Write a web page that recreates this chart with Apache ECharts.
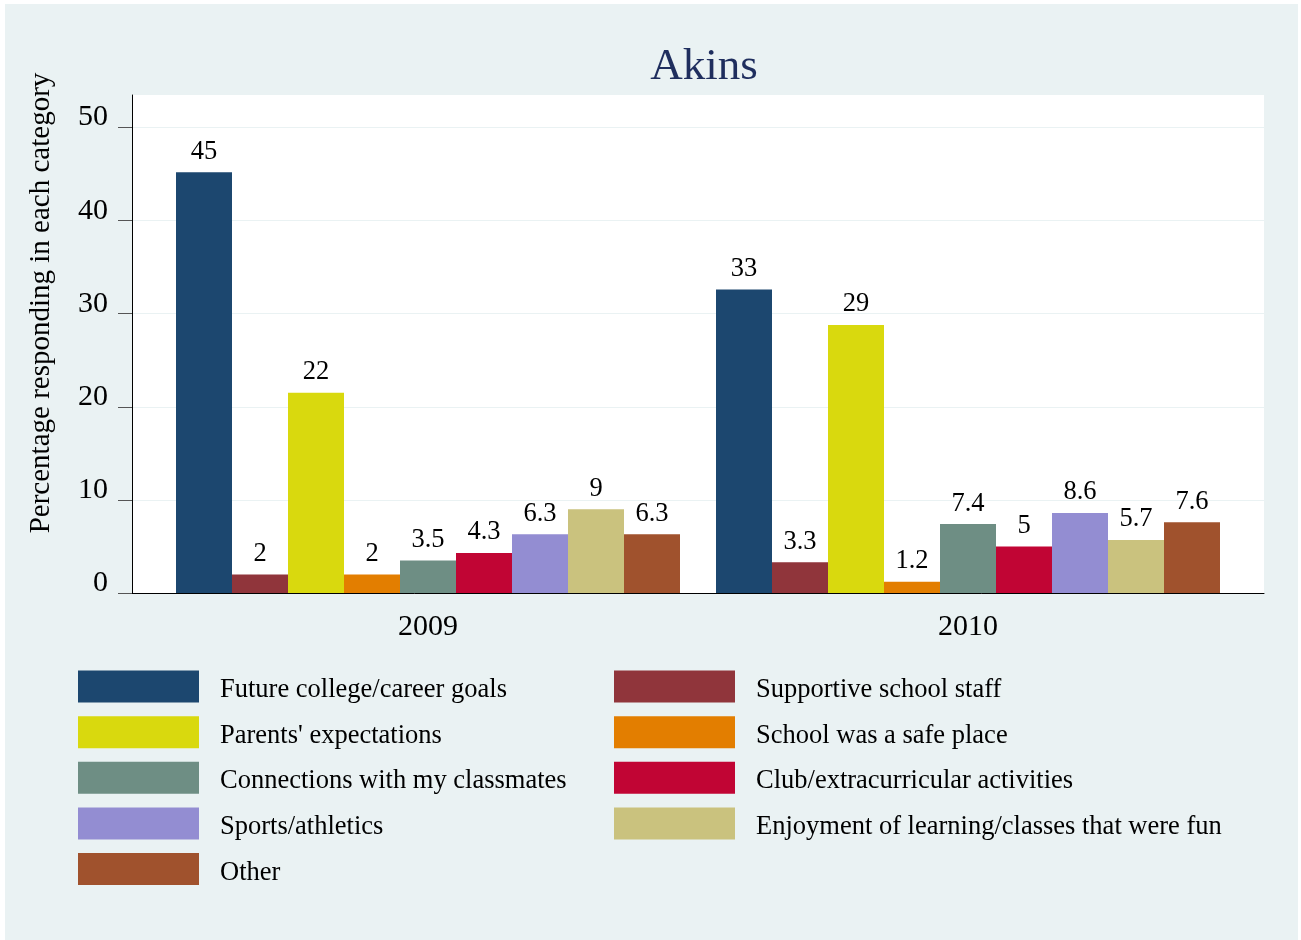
<!DOCTYPE html>
<html>
<head>
<meta charset="utf-8">
<script src="https://cdn.jsdelivr.net/npm/echarts@6/dist/echarts.min.js"></script>
<style>
html,body{margin:0;padding:0;background:#ffffff;}
#chart{width:1301px;height:940px;}
</style>
</head>
<body>
<div id="chart"></div>
<script>
const categories = ['2009', '2010'];
const yTicks = [0, 10, 20, 30, 40, 50];
const seriesNames = [
  'Future college/career goals',
  'Supportive school staff',
  "Parents' expectations",
  'School was a safe place',
  'Connections with my classmates',
  'Club/extracurricular activities',
  'Sports/athletics',
  'Enjoyment of learning/classes that were fun',
  'Other'
];
const futureGoals   = [45.2, 32.6];
const supportive    = [2.0, 3.3];
const parents       = [21.5, 28.8];
const safePlace     = [2.0, 1.2];
const connections   = [3.5, 7.4];
const clubs         = [4.3, 5.0];
const sports        = [6.3, 8.6];
const enjoyment     = [9.0, 5.7];
const other         = [6.3, 7.6];
const seriesValues = [futureGoals, supportive, parents, safePlace, connections, clubs, sports, enjoyment, other];
const colors = ['#1C476F', '#90353B', '#D9D90E', '#E37E00', '#6E8E84', '#C10534', '#938DD2', '#CAC27E', '#A0522D'];

const FONT = "'Liberation Serif', 'Times New Roman', serif";
const fmt = v => String(parseFloat(Number(v).toPrecision(2)));

const series = seriesNames.map((name, i) => ({
  name: name,
  type: 'bar',
  xAxisIndex: 1,
  yAxisIndex: 1,
  barWidth: 56,
  barGap: '0%',
  itemStyle: { color: colors[i] },
  label: {
    show: true,
    position: 'top',
    distance: 7,
    color: '#000',
    fontFamily: FONT,
    fontSize: 26.5,
    formatter: p => fmt(p.value)
  },
  data: seriesValues[i]
}));

const leftNames = seriesNames.filter((_, i) => i % 2 === 0);
const rightNames = seriesNames.filter((_, i) => i % 2 === 1);
const legendCommon = {
  orient: 'vertical',
  top: 670.5,
  padding: 0,
  itemWidth: 121,
  itemHeight: 32,
  itemGap: 12.65,
  icon: 'rect',
  selectedMode: false,
  formatter: n => '{t|' + n + '}',
  textStyle: {
    fontFamily: FONT, fontSize: 26.5, color: '#000', padding: [0, 0, 0, 16],
    rich: { t: { fontFamily: FONT, fontSize: 26.5, color: '#000', padding: [7, 0, 0, 0] } }
  }
};

const chart = echarts.init(document.getElementById('chart'), null, { renderer: 'canvas' });
chart.setOption({
  backgroundColor: '#ffffff',
  animation: false,
  color: colors,
  graphic: [{
    type: 'rect', z: -10, silent: true,
    shape: { x: 5, y: 4, width: 1293, height: 936 },
    style: { fill: '#EAF2F3' }
  }],
  title: {
    text: 'Akins',
    left: 699,
    textAlign: 'center',
    top: 40,
    textStyle: { fontFamily: FONT, fontSize: 45, fontWeight: 'normal', color: '#1F2E5E' }
  },
  legend: [
    Object.assign({}, legendCommon, { left: 78, data: leftNames }),
    Object.assign({}, legendCommon, { left: 614, data: rightNames })
  ],
  grid: [
    { left: 132, right: 37, top: 95, bottom: 347, show: true, backgroundColor: '#ffffff', borderWidth: 0 },
    { left: 158, right: 63, top: 95, bottom: 347 }
  ],
  xAxis: [
    {
      gridIndex: 0, type: 'value', min: 0, max: 1,
      axisLine: { show: true, onZero: false, lineStyle: { color: '#000', width: 1 } },
      axisTick: { show: false }, axisLabel: { show: false }, splitLine: { show: false }
    },
    {
      gridIndex: 1, type: 'category', data: categories,
      axisLine: { show: false }, axisTick: { show: false },
      axisLabel: { margin: 19, color: '#000', fontFamily: FONT, fontSize: 30 }
    }
  ],
  yAxis: [
    {
      gridIndex: 0, type: 'value', min: 0, max: 53.5, interval: 10,
      name: 'Percentage responding in each category',
      nameLocation: 'middle', nameGap: 76,
      nameTextStyle: { fontFamily: FONT, fontSize: 29, color: '#000', padding: [0, 0, 0, 82] },
      axisLine: { show: true, lineStyle: { color: '#000', width: 1 } },
      axisTick: { show: true, length: 14, customValues: yTicks, lineStyle: { color: '#555', width: 1 } },
      axisLabel: {
        customValues: yTicks,
        margin: 24, color: '#000', fontFamily: FONT, fontSize: 30,
        verticalAlign: 'bottom', lineHeight: 20,
        formatter: v => (v % 10 === 0 ? String(v) : '')
      },
      splitLine: { show: true, lineStyle: { color: '#EAF2F3', width: 1 } }
    },
    {
      gridIndex: 1, type: 'value', min: 0, max: 53.5,
      show: false, splitLine: { show: false }
    }
  ],
  series: series
});
</script>
</body>
</html>
